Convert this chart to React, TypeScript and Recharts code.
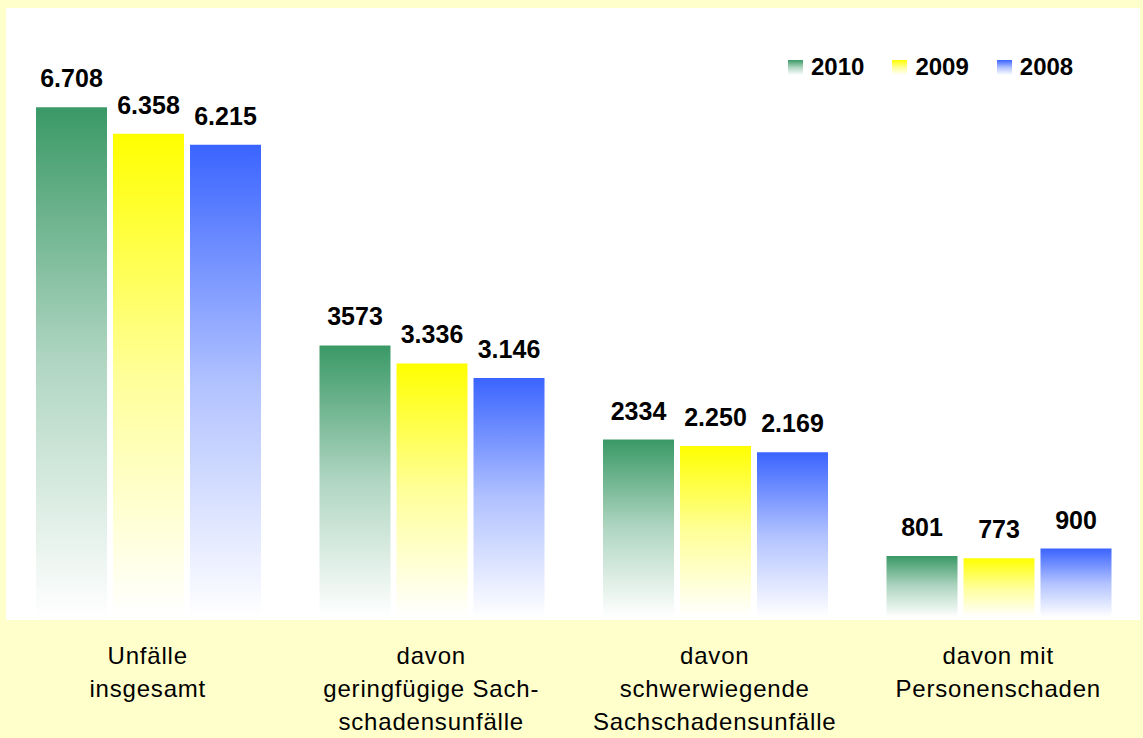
import { BarChart, Bar, XAxis, YAxis, Legend, LabelList } from "recharts";

const categories = [
  "Unfälle\ninsgesamt",
  "davon\ngeringfügige Sach-\nschadensunfälle",
  "davon\nschwerwiegende\nSachschadensunfälle",
  "davon mit\nPersonenschaden",
];

const values2010 = [6708, 3573, 2334, 801];
const values2009 = [6358, 3336, 2250, 773];
const values2008 = [6215, 3146, 2169, 900];

const labels2010 = ["6.708", "3573", "2334", "801"];
const labels2009 = ["6.358", "3.336", "2.250", "773"];
const labels2008 = ["6.215", "3.146", "2.169", "900"];

const series = [
  { key: "2010", color: "#3a9966" },
  { key: "2009", color: "#ffff00" },
  { key: "2008", color: "#3a64ff" },
];

const data = categories.map((name, i) => ({
  name,
  v2010: values2010[i],
  v2009: values2009[i],
  v2008: values2008[i],
  l2010: labels2010[i],
  l2009: labels2009[i],
  l2008: labels2008[i],
}));

const FONT = "'Liberation Sans', Arial, sans-serif";

// blend a hex colour towards white
const toWhite = (hex: string, t: number) => {
  const n = parseInt(hex.slice(1), 16);
  const c = [(n >> 16) & 255, (n >> 8) & 255, n & 255].map((v) =>
    Math.round(v + (255 - v) * t)
  );
  return "#" + c.map((v) => v.toString(16).padStart(2, "0")).join("");
};

const CategoryTick = ({ x, y, payload }: any) => {
  const lines = String(payload.value).split("\n");
  return (
    <g>
      <text
        x={x}
        y={y}
        textAnchor="middle"
        fontFamily={FONT}
        fontSize={24}
        letterSpacing={0.8}
        fill="#000"
      >
        {lines.map((l, i) => (
          <tspan key={i} x={x} dy={i === 0 ? 39 : 33}>
            {l}
          </tspan>
        ))}
      </text>
    </g>
  );
};

const ValueLabel = ({ x, y, width, value }: any) => (
  <text
    x={x + width / 2}
    y={y - 20}
    textAnchor="middle"
    fontFamily={FONT}
    fontWeight="bold"
    fontSize={25}
    fill="#000"
  >
    {value}
  </text>
);

const LegendBox = () => (
  <div style={{ display: "flex", alignItems: "center", fontFamily: FONT }}>
    {series.map((s, i) => (
      <div
        key={s.key}
        style={{ display: "flex", alignItems: "center", marginLeft: i === 0 ? 0 : 28 }}
      >
        <div
          style={{
            width: 15,
            height: 15,
            marginRight: 8,
            background: `linear-gradient(to bottom, ${s.color}, ${toWhite(s.color, 0.6)} 50%, #ffffff)`,
          }}
        />
        <span style={{ fontSize: 24, fontWeight: "bold", color: "#000", lineHeight: "24px" }}>
          {s.key}
        </span>
      </div>
    ))}
  </div>
);

const App = () => {
  return (
    <div
      style={{
        position: "absolute",
        left: 0,
        top: 0,
        width: 1143,
        height: 738,
        background: "#ffffcc",
        overflow: "hidden",
      }}
    >
      <div
        style={{
          position: "absolute",
          left: 6,
          top: 8,
          width: 1134,
          height: 612,
          background: "#ffffff",
        }}
      />
      <div style={{ position: "absolute", left: 0, top: 0 }}>
        <BarChart
          width={1143}
          height={738}
          data={data}
          margin={{ top: 9, right: 3, left: 6, bottom: 91 }}
          barCategoryGap={30}
          barGap={6}
        >
          <defs>
            {series.map((s) => (
              <linearGradient key={s.key} id={`g${s.key}`} x1="0" y1="0" x2="0" y2="1">
                <stop offset="0%" stopColor={s.color} />
                <stop offset="50%" stopColor={toWhite(s.color, 0.6)} />
                <stop offset="100%" stopColor="#ffffff" />
              </linearGradient>
            ))}
          </defs>
          <XAxis
            dataKey="name"
            height={30}
            axisLine={false}
            tickLine={false}
            interval={0}
            tick={<CategoryTick />}
          />
          <YAxis hide domain={[0, 8000]} />
          <Legend
            layout="horizontal"
            verticalAlign="middle"
            content={<LegendBox />}
            wrapperStyle={{ position: "absolute", top: 55, left: 788, width: "auto" }}
          />
          {series.map((s) => (
            <Bar
              key={s.key}
              dataKey={`v${s.key}`}
              name={s.key}
              fill={`url(#g${s.key})`}
              isAnimationActive={false}
            >
              <LabelList dataKey={`l${s.key}`} content={<ValueLabel />} />
            </Bar>
          ))}
        </BarChart>
      </div>
    </div>
  );
};

export default App;
